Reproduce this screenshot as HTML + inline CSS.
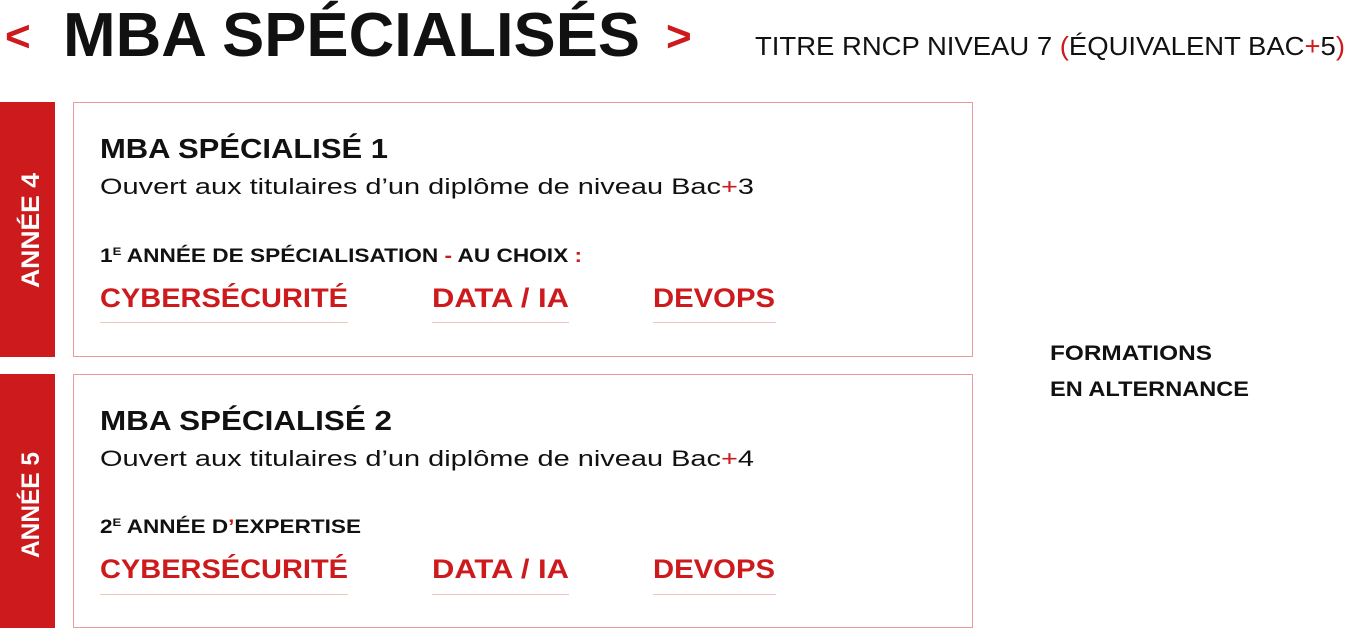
<!DOCTYPE html>
<html><head><meta charset="utf-8"><style>
html,body{margin:0;padding:0;background:#fff;}
svg{display:block;}
text{font-family:"Liberation Sans",sans-serif;}
</style></head><body>
<svg width="1347" height="630" viewBox="0 0 1347 630" xmlns="http://www.w3.org/2000/svg">
<!-- title -->
<text x="5" y="51" font-size="44" font-weight="bold" fill="#cc1a1d">&lt;</text>
<text x="63" y="56" font-size="62" font-weight="bold" fill="#111" textLength="577" lengthAdjust="spacingAndGlyphs">MBA SPÉCIALISÉS</text>
<text x="666" y="51" font-size="44" font-weight="bold" fill="#cc1a1d">&gt;</text>
<text x="755" y="55" font-size="26" fill="#111" textLength="590" lengthAdjust="spacingAndGlyphs">TITRE RNCP NIVEAU 7 <tspan fill="#cc1a1d">(</tspan>ÉQUIVALENT BAC<tspan fill="#cc1a1d">+</tspan>5<tspan fill="#cc1a1d">)</tspan></text>

<!-- red bars -->
<rect x="0" y="102" width="55" height="255" fill="#cc1a1d"/>
<rect x="0" y="374" width="55" height="254" fill="#cc1a1d"/>
<text transform="translate(39,288) rotate(-90)" font-size="25" font-weight="bold" fill="#fff" textLength="115" lengthAdjust="spacingAndGlyphs">ANNÉE 4</text>
<text transform="translate(39,558) rotate(-90)" font-size="25" font-weight="bold" fill="#fff" textLength="106" lengthAdjust="spacingAndGlyphs">ANNÉE 5</text>

<!-- boxes -->
<rect x="73.5" y="102.5" width="899" height="254" fill="none" stroke="#ec9a9a" stroke-width="1"/>
<rect x="73.5" y="374.5" width="899" height="253" fill="none" stroke="#ec9a9a" stroke-width="1"/>

<!-- box 1 -->
<text x="100" y="158" font-size="28" font-weight="bold" fill="#111" textLength="288" lengthAdjust="spacingAndGlyphs">MBA SPÉCIALISÉ 1</text>
<text x="100" y="194" font-size="22" fill="#111" textLength="654" lengthAdjust="spacingAndGlyphs">Ouvert aux titulaires d’un diplôme de niveau Bac<tspan fill="#cc1a1d">+</tspan>3</text>
<text x="100" y="262" font-size="19" font-weight="bold" fill="#111" textLength="482" lengthAdjust="spacingAndGlyphs">1<tspan font-size="11" dy="-7">E</tspan><tspan dy="7"> ANNÉE DE SPÉCIALISATION </tspan><tspan fill="#cc1a1d">-</tspan> AU CHOIX <tspan fill="#cc1a1d">:</tspan></text>
<text x="100" y="307" font-size="27" font-weight="bold" fill="#cc1a1d" textLength="248" lengthAdjust="spacingAndGlyphs">CYBERSÉCURITÉ</text>
<text x="432" y="307" font-size="27" font-weight="bold" fill="#cc1a1d" textLength="137" lengthAdjust="spacingAndGlyphs">DATA / IA</text>
<text x="653" y="307" font-size="27" font-weight="bold" fill="#cc1a1d" textLength="122" lengthAdjust="spacingAndGlyphs">DEVOPS</text>
<rect x="100" y="322" width="248" height="1" fill="#f2c4bf"/>
<rect x="432" y="322" width="137" height="1" fill="#f2c4bf"/>
<rect x="653" y="322" width="123" height="1" fill="#f2c4bf"/>

<!-- box 2 -->
<text x="100" y="430" font-size="28" font-weight="bold" fill="#111" textLength="292" lengthAdjust="spacingAndGlyphs">MBA SPÉCIALISÉ 2</text>
<text x="100" y="466" font-size="22" fill="#111" textLength="654" lengthAdjust="spacingAndGlyphs">Ouvert aux titulaires d’un diplôme de niveau Bac<tspan fill="#cc1a1d">+</tspan>4</text>
<text x="100" y="533" font-size="19" font-weight="bold" fill="#111" textLength="261" lengthAdjust="spacingAndGlyphs">2<tspan font-size="11" dy="-7">E</tspan><tspan dy="7"> ANNÉE D</tspan><tspan fill="#cc1a1d">’</tspan>EXPERTISE</text>
<text x="100" y="578" font-size="27" font-weight="bold" fill="#cc1a1d" textLength="248" lengthAdjust="spacingAndGlyphs">CYBERSÉCURITÉ</text>
<text x="432" y="578" font-size="27" font-weight="bold" fill="#cc1a1d" textLength="137" lengthAdjust="spacingAndGlyphs">DATA / IA</text>
<text x="653" y="578" font-size="27" font-weight="bold" fill="#cc1a1d" textLength="122" lengthAdjust="spacingAndGlyphs">DEVOPS</text>
<rect x="100" y="594" width="248" height="1" fill="#f2c4bf"/>
<rect x="432" y="594" width="137" height="1" fill="#f2c4bf"/>
<rect x="653" y="594" width="123" height="1" fill="#f2c4bf"/>

<!-- side -->
<text x="1050" y="360" font-size="21" font-weight="bold" fill="#111" textLength="162" lengthAdjust="spacingAndGlyphs">FORMATIONS</text>
<text x="1050" y="396" font-size="21" font-weight="bold" fill="#111" textLength="199" lengthAdjust="spacingAndGlyphs">EN ALTERNANCE</text>
</svg>
</body></html>
